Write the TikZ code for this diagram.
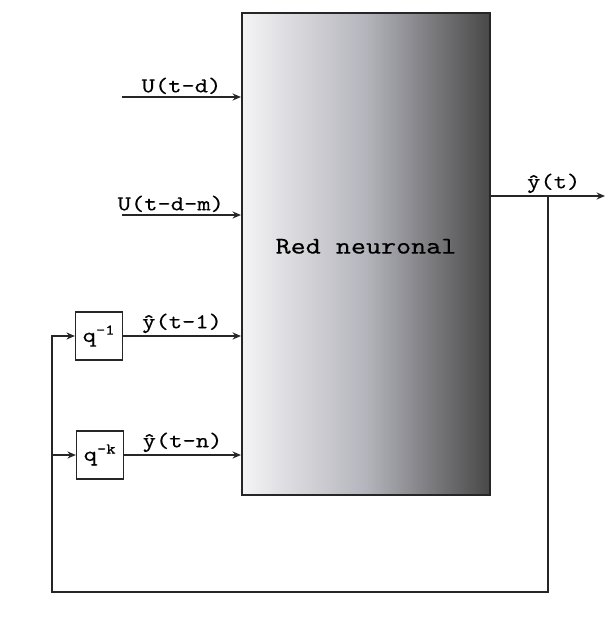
\documentclass[tikz,border=0pt]{standalone}
\usepackage{fontspec}
\setmonofont{lmmono10-regular.otf}[FakeStretch=1.2, FakeBold=0.3]
\usetikzlibrary{arrows.meta, positioning, calc}
\definecolor{netleft}{HTML}{F4F4F6}
\definecolor{netmid}{HTML}{B4B4BC}
\definecolor{netright}{HTML}{484848}
\tikzset{
  netbox/.style={draw=black!85, line width=1.4pt, left color=netleft, right color=netright, middle color=netmid, minimum width=6.2cm, minimum height=12.05cm, font=\ttfamily\fontsize{17}{19}\selectfont},
  delaybox/.style={draw=black!85, line width=1pt, minimum width=1.17cm, minimum height=1.2cm, font=\ttfamily\fontsize{15}{17}\selectfont},
  sigline/.style={-{Stealth[length=6pt, width=5pt]}, line width=1.2pt, draw=black!85},
  siglabel/.style={font=\ttfamily\fontsize{15}{17}\selectfont, inner sep=1.5pt, above}
}

\begin{document}
\begin{tikzpicture}[x=0.025cm, y=-0.025cm]
  \useasboundingbox (0,0) rectangle (607,619);
  % neural net block and the two delay blocks
  \node[netbox] at (366,254) (net) {\raisebox{11pt}{Red neuronal}};
  \node[delaybox] at (99,336) (q1) {q\textsuperscript{-1}};
  \node[delaybox] at (100,455) (qk) {q\textsuperscript{-k}};

  % free ends of the connectors
  \coordinate (u1) at (122,97);
  \coordinate (u2) at (122,215);
  \coordinate (out) at (605,196);
  \coordinate (tap) at (548,196);
  \coordinate (fb) at (52,592);

  % inputs
  \draw[sigline] (u1) -- (u1 -| net.west) node[siglabel, midway] {U(t-d)};
  \draw[sigline] (u2) -- (u2 -| net.west) node[siglabel, pos=0.41] {U(t-d-m)};
  \draw[sigline] (q1.east) -- (q1.east -| net.west) node[siglabel, midway] {ŷ(t-1)};
  \draw[sigline] (qk.east) -- (qk.east -| net.west) node[siglabel, midway] {ŷ(t-n)};

  % output and feedback loop
  \draw[sigline] (tap -| net.east) -- (out) node[siglabel, pos=0.55] {ŷ(t)};
  \draw[sigline] (tap) |- (fb) |- (q1.west);
  \draw[sigline] (fb |- qk.west) -- (qk.west);
\end{tikzpicture}
\end{document}
